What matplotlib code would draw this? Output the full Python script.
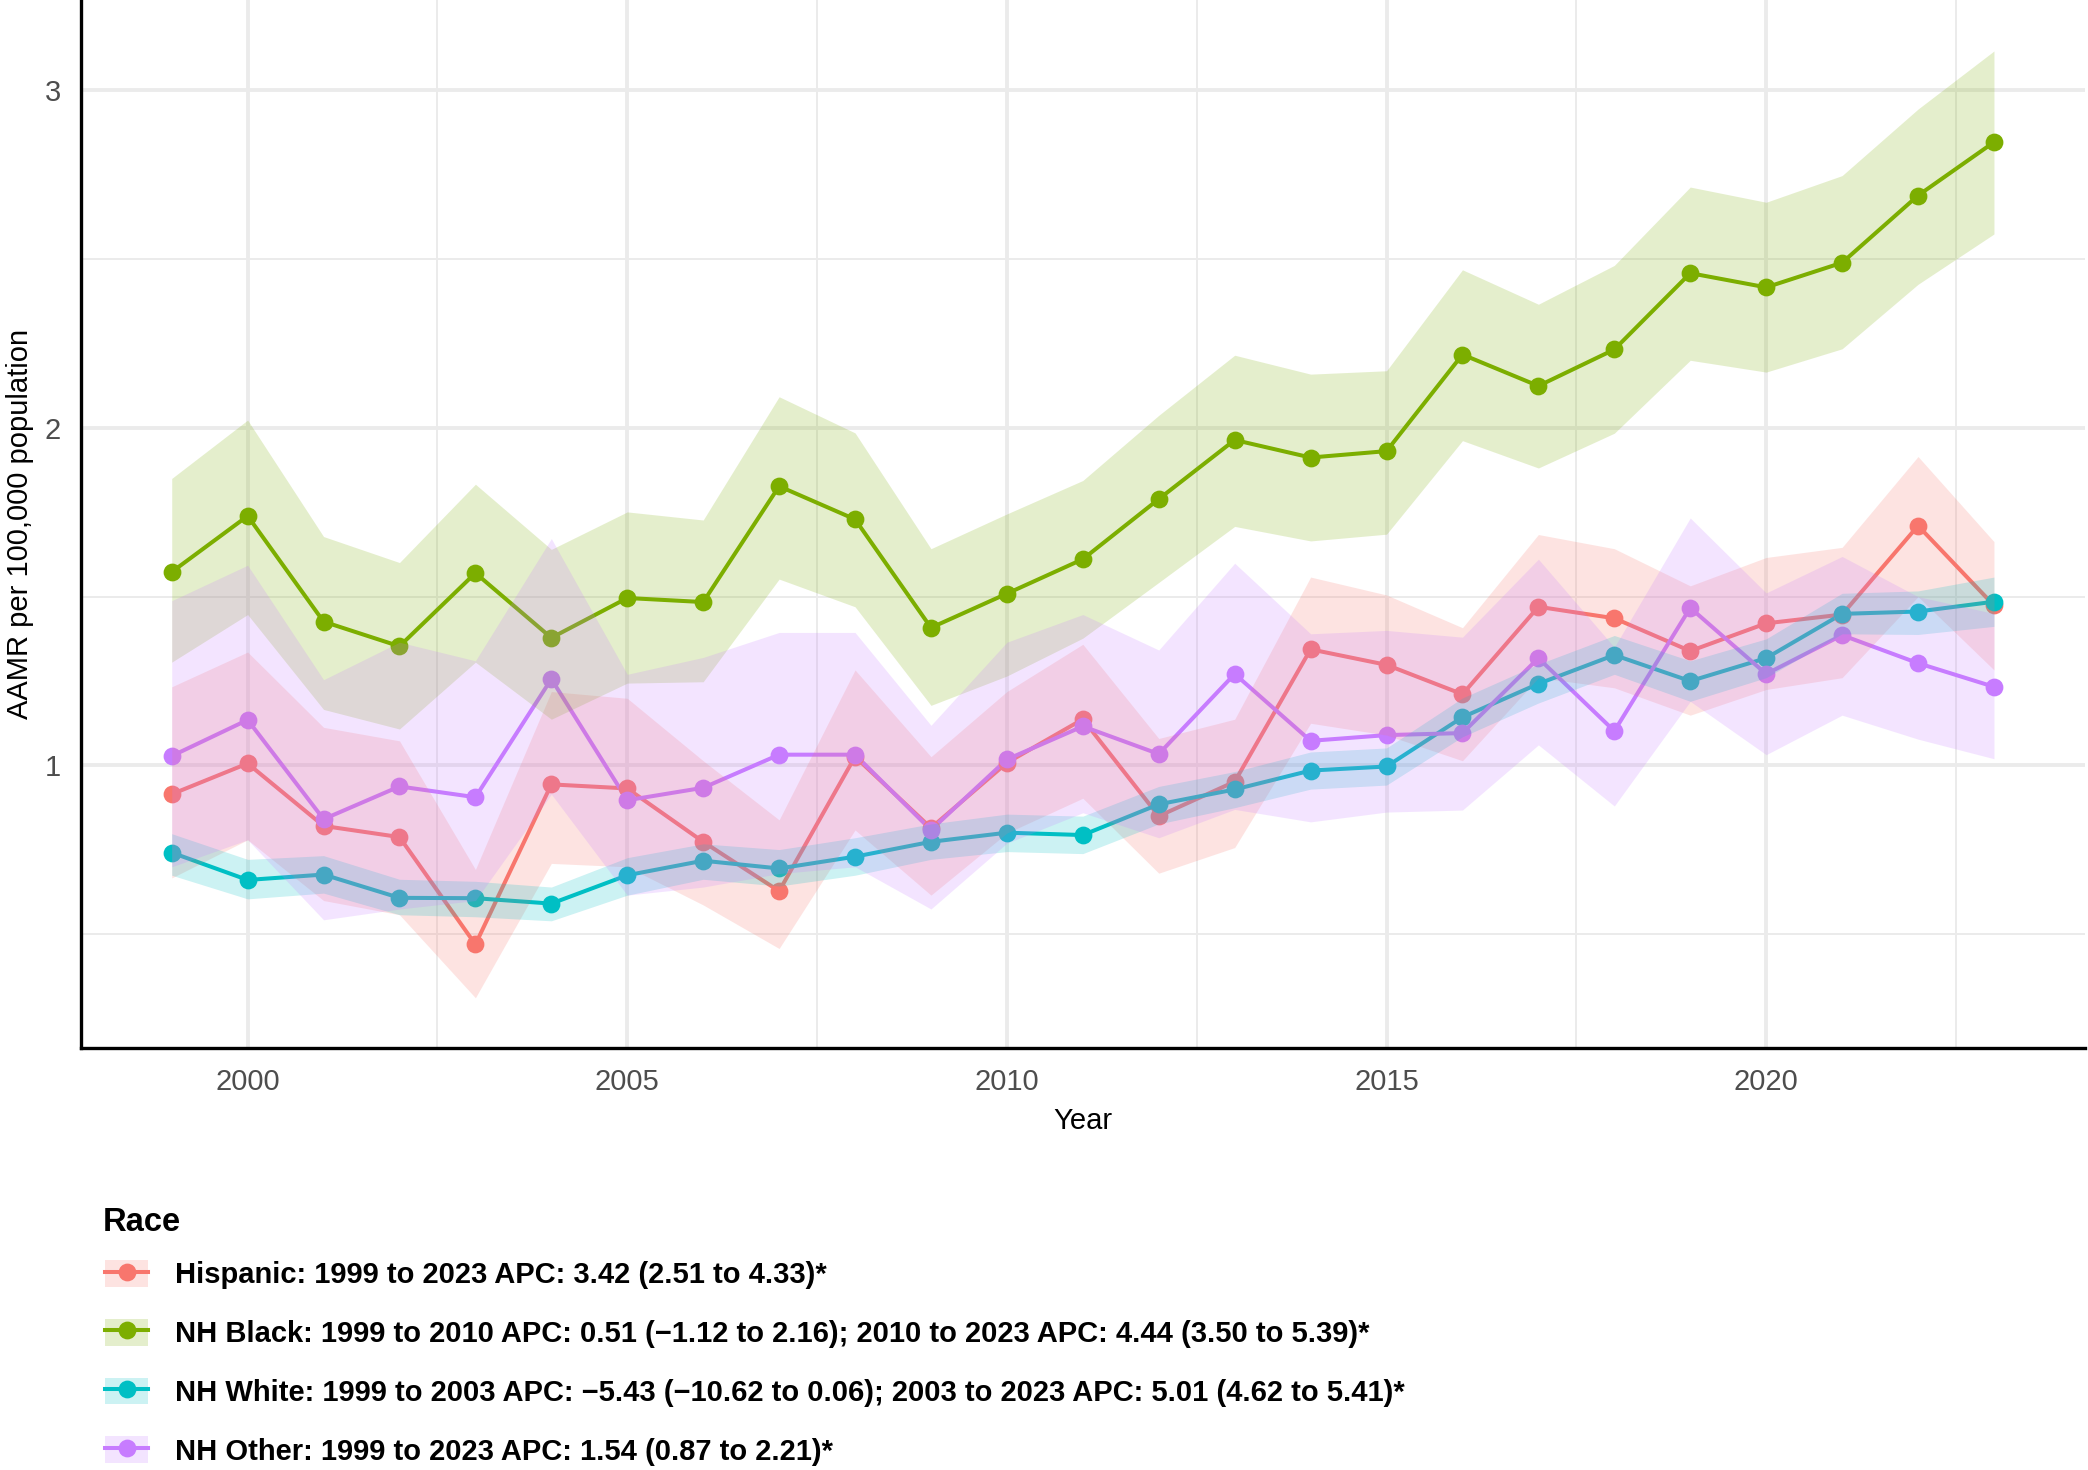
import numpy as np
import matplotlib.pyplot as plt
from matplotlib.lines import Line2D
from matplotlib.patches import Patch
from matplotlib.legend_handler import HandlerTuple

plt.rcParams['font.family'] = ['Liberation Sans', 'DejaVu Sans']

years = list(range(1999, 2024))

# AAMR per 100,000 with 95% CI
hisp = [0.915, 1.006, 0.821, 0.788, 0.470, 0.944, 0.932, 0.774, 0.628, 1.026, 0.815, 1.008, 1.137,
        0.850, 0.952, 1.344, 1.298, 1.211, 1.470, 1.436, 1.339, 1.421, 1.447, 1.710, 1.474]
hisp_hi = [1.233, 1.336, 1.113, 1.073, 0.692, 1.219, 1.199, 1.014, 0.839, 1.283, 1.026, 1.219, 1.359,
           1.080, 1.137, 1.558, 1.505, 1.408, 1.684, 1.642, 1.532, 1.616, 1.646, 1.915, 1.663]
hisp_lo = [0.667, 0.780, 0.600, 0.558, 0.312, 0.710, 0.700, 0.587, 0.458, 0.809, 0.616, 0.800, 0.903,
           0.681, 0.757, 1.125, 1.090, 1.014, 1.260, 1.230, 1.149, 1.225, 1.260, 1.500, 1.283]

black = [1.573, 1.739, 1.426, 1.353, 1.570, 1.378, 1.496, 1.484, 1.827, 1.729, 1.408, 1.509, 1.611,
         1.789, 1.964, 1.912, 1.931, 2.217, 2.124, 2.232, 2.458, 2.416, 2.489, 2.688, 2.846]
black_hi = [1.850, 2.023, 1.678, 1.601, 1.833, 1.640, 1.751, 1.727, 2.092, 1.985, 1.642, 1.745, 1.844,
            2.037, 2.215, 2.159, 2.169, 2.468, 2.366, 2.481, 2.713, 2.668, 2.747, 2.944, 3.116]
black_lo = [1.306, 1.447, 1.166, 1.108, 1.306, 1.137, 1.244, 1.248, 1.552, 1.470, 1.178, 1.265, 1.377,
            1.542, 1.708, 1.665, 1.685, 1.962, 1.881, 1.984, 2.200, 2.165, 2.234, 2.425, 2.574]

white = [0.742, 0.661, 0.677, 0.608, 0.607, 0.591, 0.675, 0.718, 0.695, 0.730, 0.774, 0.801, 0.794,
         0.885, 0.929, 0.985, 0.997, 1.143, 1.242, 1.327, 1.250, 1.318, 1.449, 1.456, 1.485]
white_hi = [0.798, 0.722, 0.733, 0.663, 0.657, 0.640, 0.727, 0.768, 0.751, 0.786, 0.827, 0.856, 0.850,
            0.938, 0.982, 1.040, 1.052, 1.200, 1.300, 1.385, 1.310, 1.375, 1.510, 1.517, 1.558]
white_lo = [0.675, 0.605, 0.622, 0.558, 0.552, 0.540, 0.616, 0.663, 0.643, 0.675, 0.722, 0.745, 0.739,
            0.827, 0.875, 0.930, 0.942, 1.085, 1.185, 1.270, 1.190, 1.260, 1.390, 1.388, 1.412]

other = [1.028, 1.135, 0.841, 0.938, 0.906, 1.256, 0.897, 0.934, 1.032, 1.032, 0.809, 1.018, 1.116,
         1.034, 1.271, 1.073, 1.090, 1.096, 1.318, 1.102, 1.467, 1.271, 1.386, 1.303, 1.233]
other_hi = [1.488, 1.593, 1.254, 1.365, 1.310, 1.672, 1.270, 1.320, 1.394, 1.394, 1.119, 1.365, 1.447,
            1.342, 1.599, 1.390, 1.400, 1.380, 1.611, 1.350, 1.733, 1.511, 1.619, 1.500, 1.450]
other_lo = [0.700, 0.780, 0.543, 0.575, 0.600, 0.915, 0.616, 0.640, 0.680, 0.700, 0.575, 0.770, 0.860,
            0.786, 0.870, 0.833, 0.862, 0.868, 1.061, 0.880, 1.190, 1.032, 1.149, 1.078, 1.020]

labels = [
    "Hispanic: 1999 to 2023 APC: 3.42 (2.51 to 4.33)*",
    "NH Black: 1999 to 2010 APC: 0.51 (\u22121.12 to 2.16); 2010 to 2023 APC: 4.44 (3.50 to 5.39)*",
    "NH White: 1999 to 2003 APC: \u22125.43 (\u221210.62 to 0.06); 2003 to 2023 APC: 5.01 (4.62 to 5.41)*",
    "NH Other: 1999 to 2023 APC: 1.54 (0.87 to 2.21)*",
]
colors = ["#F8766D", "#7CAE00", "#00BFC4", "#C77CFF"]

series = [(hisp, hisp_lo, hisp_hi), (black, black_lo, black_hi),
          (white, white_lo, white_hi), (other, other_lo, other_hi)]

fig = plt.figure(figsize=(10.44, 7.35), dpi=200)
ax = fig.add_axes([0.0386, 0.287, 0.960, 0.713])

# lines, then points, then ribbons on top (ggplot layer order)
for (vals, lo, hi), c in zip(series, colors):
    ax.plot(years, vals, color=c, lw=1.45, zorder=2)
for (vals, lo, hi), c in zip(series, colors):
    ax.plot(years, vals, ls='none', marker='o', ms=5.4, color=c, zorder=3)
for (vals, lo, hi), c in zip(series, colors):
    ax.fill_between(years, lo, hi, color=c, alpha=0.2, lw=0, zorder=4)

ax.set_xlim(1997.8, 2024.2)
ax.set_ylim(0.163, 3.267)
ax.set_xticks([2000, 2005, 2010, 2015, 2020])
ax.set_xticks([2002.5, 2007.5, 2012.5, 2017.5, 2022.5], minor=True)
ax.set_yticks([1, 2, 3])
ax.set_yticks([0.5, 1.5, 2.5], minor=True)
ax.set_axisbelow(True)
ax.grid(which='major', color='#EBEBEB', lw=1.4)
ax.grid(which='minor', color='#EBEBEB', lw=0.7)
ax.tick_params(which='both', length=0, labelsize=10.5, labelcolor='#4D4D4D', pad=7)
for s in ['top', 'right']:
    ax.spines[s].set_visible(False)
for s in ['left', 'bottom']:
    ax.spines[s].set_color('black')
    ax.spines[s].set_linewidth(1.2)

ax.set_xlabel("Year", fontsize=10.5, labelpad=4)
ax.set_ylabel("AAMR per 100,000 population", fontsize=10.5, labelpad=4)

# legend title as its own text so the rows can sit at the ggplot spacing
fig.text(0.0493, 0.1687, "Race", fontsize=11.8, fontweight='bold', va='center', ha='left')
handles = [(Patch(facecolor=c, alpha=0.2, edgecolor='none'),
            Line2D([], [], color=c, lw=1.45, marker='o', ms=5.4)) for c in colors]
fig.legend(handles, labels, handler_map={tuple: HandlerTuple(ndivide=1, pad=0)},
           loc='upper left', bbox_to_anchor=(0.0505, 0.1428), frameon=False,
           prop={'weight': 'bold', 'size': 10.5},
           handlelength=1.45, handleheight=1.03, handletextpad=0.95,
           labelspacing=1.01, borderpad=0, borderaxespad=0)

plt.savefig("out.png", dpi=200)
